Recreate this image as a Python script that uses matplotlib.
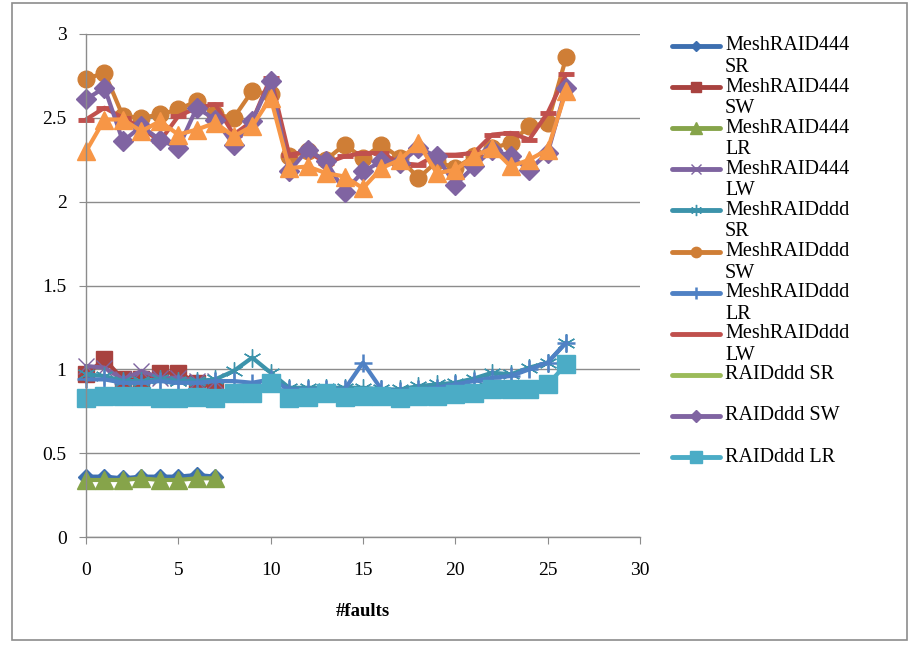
import matplotlib
matplotlib.use("Agg")
import matplotlib.pyplot as plt
from matplotlib.lines import Line2D
from matplotlib.patches import Rectangle

plt.rcParams['font.family'] = ['Liberation Serif', 'DejaVu Serif']

# ---------------- data ----------------
x444 = [0, 1, 2, 3, 4, 5, 6, 7]
xddd = list(range(27))

mr444_sr = [0.36, 0.36, 0.35, 0.36, 0.36, 0.36, 0.37, 0.36]
mr444_sw = [0.97, 1.06, 0.94, 0.94, 0.98, 0.98, 0.92, 0.89]
mr444_lr = [0.34, 0.34, 0.34, 0.35, 0.34, 0.34, 0.35, 0.35]
mr444_lw = [1.02, 1.01, 0.94, 0.99, 0.95, 0.95, 0.93, 0.93]

mrddd_sr = [0.97, 0.96, 0.93, 0.93, 0.94, 0.93, 0.93, 0.94, 0.99, 1.07, 0.98,
            0.89, 0.89, 0.89, 0.89, 0.89, 0.88, 0.88, 0.90, 0.91, 0.92, 0.945,
            0.98, 0.97, 1.01, 1.04, 1.16]
mrddd_sw = [2.73, 2.77, 2.51, 2.50, 2.52, 2.55, 2.60, 2.52, 2.50, 2.66, 2.64,
            2.27, 2.30, 2.25, 2.34, 2.26, 2.34, 2.26, 2.14, 2.24, 2.20, 2.27,
            2.32, 2.35, 2.45, 2.47, 2.86]
mrddd_lr = [0.94, 0.94, 0.92, 0.92, 0.93, 0.92, 0.92, 0.93, 0.93, 0.92, 0.94,
            0.88, 0.88, 0.88, 0.88, 1.04, 0.88, 0.87, 0.88, 0.89, 0.91, 0.93,
            0.95, 0.96, 1.00, 1.04, 1.16]
mrddd_lw = [2.49, 2.56, 2.50, 2.44, 2.36, 2.51, 2.56, 2.58, 2.40, 2.48, 2.74,
            2.28, 2.30, 2.23, 2.27, 2.29, 2.29, 2.23, 2.22, 2.28, 2.28, 2.29,
            2.40, 2.41, 2.37, 2.53, 2.76]
raid_sr = []
raid_sw = [2.61, 2.68, 2.36, 2.45, 2.37, 2.32, 2.56, 2.49, 2.34, 2.48, 2.72,
           2.18, 2.31, 2.24, 2.06, 2.18, 2.24, 2.23, 2.32, 2.27, 2.10, 2.21,
           2.31, 2.27, 2.19, 2.29, 2.68]
raid_lr = [0.83, 0.84, 0.84, 0.84, 0.83, 0.83, 0.835, 0.83, 0.86, 0.86, 0.92,
           0.83, 0.835, 0.86, 0.835, 0.84, 0.84, 0.83, 0.84, 0.84, 0.85, 0.86,
           0.88, 0.88, 0.88, 0.91, 1.03]
raid_lw = [2.30, 2.49, 2.49, 2.42, 2.48, 2.40, 2.43, 2.47, 2.39, 2.45, 2.62,
           2.20, 2.21, 2.17, 2.15, 2.08, 2.20, 2.25, 2.35, 2.17, 2.19, 2.27,
           2.32, 2.21, 2.25, 2.31, 2.66]

labels = ["MeshRAID444\nSR", "MeshRAID444\nSW", "MeshRAID444\nLR", "MeshRAID444\nLW",
          "MeshRAIDddd\nSR", "MeshRAIDddd\nSW", "MeshRAIDddd\nLR", "MeshRAIDddd\nLW",
          "RAIDddd SR", "RAIDddd SW", "RAIDddd LR", "RAIDddd LW"]

x_ticks = [0, 5, 10, 15, 20, 25, 30]
y_ticks = [0, 0.5, 1, 1.5, 2, 2.5, 3]
y_ticklabels = ["0", "0.5", "1", "1.5", "2", "2.5", "3"]
x_label = "#faults"

# ---------------- styles ----------------
series = [
    (x444, mr444_sr, '#3D6FB0', 'D', 8, 1.0),
    (x444, mr444_sw, '#A8423F', 's', 12, 1.0),
    (x444, mr444_lr, '#86A44A', '^', 13, 1.0),
    (x444, mr444_lw, '#7E64A0', 'x', 12, 1.0),
    (xddd, mrddd_sr, '#3C93AB', (6, 2, 0), 13, 1.0),
    (xddd, mrddd_sw, '#CF7E36', 'o', 12, 1.0),
    (xddd, mrddd_lr, '#4F81C4', '+', 13, 1.8),
    (xddd, mrddd_lw, '#C0504D', '_', 11, 3.5),
    (xddd, raid_sr, '#9BBB59', None, 0, 1.0),
    (xddd, raid_sw, '#8064A2', 'D', 10, 1.0),
    (xddd, raid_lr, '#4BACC6', 's', 13, 1.0),
    (xddd, raid_lw, '#F79646', '^', 13, 1.0),
]

W, H = 914, 646
fig = plt.figure(figsize=(W / 100, H / 100), dpi=100)
fig.patch.set_facecolor('white')
fig.add_artist(Rectangle((12 / W, 1 - 640 / H), (907 - 12) / W, (640 - 3) / H,
                         transform=fig.transFigure, fill=False,
                         edgecolor='#8C8C8C', lw=1.2))

ax = fig.add_axes([86 / W, 1 - 537 / H, (640 - 86) / W, 503 / H])
grid_c = '#8C8C8C'
for xs, ys, c, m, ms, mew in series:
    if len(ys) == 0:
        continue
    xx = xs[:len(ys)]
    ax.plot(xx, ys, color=c, lw=3, marker=m, markersize=ms,
            markeredgewidth=mew, markerfacecolor=c, markeredgecolor=c,
            clip_on=False, solid_joinstyle='round', solid_capstyle='round')

ax.set_xlim(0, 30)
ax.set_ylim(0, 3)
ax.set_xticks(x_ticks)
ax.set_yticks(y_ticks)
ax.set_yticklabels(y_ticklabels)
ax.yaxis.grid(True, color=grid_c, lw=1)
ax.set_axisbelow(True)
for s in ['top', 'right']:
    ax.spines[s].set_visible(False)
for s in ['left', 'bottom']:
    ax.spines[s].set_color(grid_c)
    ax.spines[s].set_linewidth(1)
ax.tick_params(axis='both', direction='out', color=grid_c, length=5,
               labelsize=14, labelcolor='black')
ax.tick_params(axis='x', pad=13)
ax.tick_params(axis='y', pad=9)

fig.text((86 + 15 * 18.47) / W, 1 - 612 / H, x_label, ha='center', va='center',
         fontsize=13.5, fontweight='bold')

# ---------------- legend (manual, Excel-like) ----------------
for i, (xs, ys, c, m, ms, mew) in enumerate(series[:11]):
    ypx = 46 + 41.1 * i
    yf = 1 - ypx / H
    fig.add_artist(Line2D([672 / W, 720 / W], [yf, yf], transform=fig.transFigure,
                          color=c, lw=3.5, solid_capstyle='round'))
    if m is not None and m != '_':
        lms = ms * 0.62
        fig.add_artist(Line2D([696 / W], [yf], transform=fig.transFigure,
                              color=c, marker=m, markersize=lms,
                              markeredgewidth=mew, markerfacecolor=c,
                              markeredgecolor=c, linestyle='none'))
    lines = labels[i].split('\n')
    for j, t in enumerate(lines):
        fig.text(725 / W, 1 - (ypx + 21.5 * j) / H, t, ha='left', va='center',
                 fontsize=14.5)

fig.savefig('out.png', dpi=100, facecolor='white')
